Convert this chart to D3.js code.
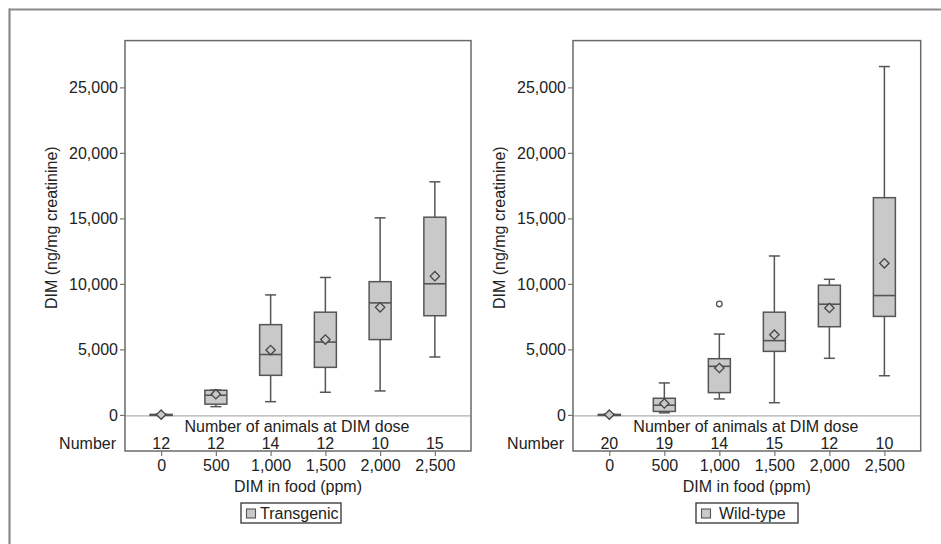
<!DOCTYPE html>
<html>
<head>
<meta charset="utf-8">
<style>
  body { margin: 0; background: #fff; }
  svg text { font-family: "Liberation Sans", Arial, Helvetica, sans-serif; fill: #222; }
</style>
<script src="https://d3js.org/d3.v7.min.js"></script>
</head>
<body>
<div id="chart"></div>
<script>
// dose groups (ppm of DIM in food)
var doses = ["0", "500", "1,000", "1,500", "2,000", "2,500"];
var yTicks = [0, 5000, 10000, 15000, 20000, 25000];

// Transgenic
var tgMin    = [0,    630,  1010, 1730, 1830, 4420];
var tgQ1     = [0,    820,  3020, 3630, 5750, 7570];
var tgMedian = [10,   1500, 4610, 5560, 8550, 10010];
var tgQ3     = [40,   1880, 6890, 7840, 10170, 15090];
var tgMax    = [60,   1900, 9160, 10490, 15040, 17790];
var tgMean   = [20,   1580, 4950, 5750, 8210, 10590];
var tgN      = [12, 12, 14, 12, 10, 15];

// Wild-type
var wtMin    = [0,    160,  1220, 930,  4320, 2990];
var wtQ1     = [0,    265,  1700, 4850, 6730, 7520];
var wtMedian = [10,   740,  3710, 5670, 8450, 9110];
var wtQ3     = [40,   1270, 4290, 7840, 9900, 16580];
var wtMax    = [60,   2440, 6170, 12130, 10350, 26590];
var wtMean   = [20,   870,  3580, 6120, 8160, 11570];
var wtN      = [20, 19, 14, 15, 12, 10];
var wtOutliers = [{dose: "1,000", value: 8470}];

var W = 941, H = 544;
var plotTop = 40.6, plotBottom = 451;

var svg = d3.select("#chart").append("svg")
    .attr("width", W)
    .attr("height", H);

// outer figure frame (top and left edges only are in view)
svg.append("line")
    .attr("x1", 9).attr("x2", W).attr("y1", 9.5).attr("y2", 9.5)
    .attr("stroke", "#8a8a8a").attr("stroke-width", 2.2);
svg.append("line")
    .attr("x1", 9.5).attr("x2", 9.5).attr("y1", 8.5).attr("y2", H)
    .attr("stroke", "#8a8a8a").attr("stroke-width", 2.2);

var y = d3.scaleLinear()
    .domain([-2755, 28570])
    .range([plotBottom, plotTop]);

function buildRows(mn, q1, med, q3, mx, mean) {
    return doses.map(function(d, i) {
        return {dose: d, min: mn[i], q1: q1[i], med: med[i], q3: q3[i], max: mx[i], mean: mean[i]};
    });
}

var panels = [
    {left: 125, right: 471, rows: buildRows(tgMin, tgQ1, tgMedian, tgQ3, tgMax, tgMean),
     counts: tgN, outliers: [], legend: "Transgenic", legendX: 241, legendW: 100, textX: 19},
    {left: 573, right: 920.7, rows: buildRows(wtMin, wtQ1, wtMedian, wtQ3, wtMax, wtMean),
     counts: wtN, outliers: wtOutliers, legend: "Wild-type", legendX: 696, legendW: 102, textX: 23}
];

var boxFill = "#c9c9c9",
    ink = "#555",
    boxW = 22,
    capW = 11;

panels.forEach(function(p) {

    var x = d3.scalePoint()
        .domain(doses)
        .range([p.left, p.right])
        .padding(0.66);

    var g = svg.append("g");
    var mid = (p.left + p.right) / 2;

    // zero reference line
    g.append("line")
        .attr("x1", p.left).attr("x2", p.right)
        .attr("y1", y(0) + 1).attr("y2", y(0) + 1)
        .attr("stroke", "#b0b0b0").attr("stroke-width", 1.2);

    // y axis
    var yx = g.append("g")
        .attr("transform", "translate(" + p.left + ",0)")
        .call(d3.axisLeft(y).tickValues(yTicks).tickSize(5).tickPadding(2).tickFormat(d3.format(",")));
    yx.select(".domain").remove();
    yx.selectAll("line").attr("stroke", "#777").attr("stroke-width", 1.2);
    yx.selectAll("text").style("font-size", "16px").attr("fill", "#222");

    // x axis (ticks below the frame)
    var xx = g.append("g")
        .attr("transform", "translate(0," + plotBottom + ")")
        .call(d3.axisBottom(x).tickSize(5).tickPadding(3.3));
    xx.select(".domain").remove();
    xx.selectAll("line").attr("stroke", "#777").attr("stroke-width", 1.2);
    xx.selectAll("text").style("font-size", "16px").attr("fill", "#222");

    var bx = g.selectAll(".bx").data(p.rows).enter().append("g").attr("class", "bx");

    // whiskers
    bx.append("line")
        .attr("x1", d => x(d.dose)).attr("x2", d => x(d.dose))
        .attr("y1", d => y(d.min)).attr("y2", d => y(d.max))
        .attr("stroke", ink).attr("stroke-width", 1.5);

    bx.append("line")
        .attr("x1", d => x(d.dose) - capW / 2).attr("x2", d => x(d.dose) + capW / 2)
        .attr("y1", d => y(d.max)).attr("y2", d => y(d.max))
        .attr("stroke", ink).attr("stroke-width", 1.5);

    bx.append("line")
        .attr("x1", d => x(d.dose) - capW / 2).attr("x2", d => x(d.dose) + capW / 2)
        .attr("y1", d => y(d.min)).attr("y2", d => y(d.min))
        .attr("stroke", ink).attr("stroke-width", 1.5);

    // boxes
    bx.append("rect")
        .attr("x", d => x(d.dose) - boxW / 2)
        .attr("width", boxW)
        .attr("y", d => y(d.q3))
        .attr("height", d => Math.max(1, y(d.q1) - y(d.q3)))
        .attr("fill", boxFill)
        .attr("stroke", ink).attr("stroke-width", 1.5);

    // medians
    bx.append("line")
        .attr("x1", d => x(d.dose) - boxW / 2).attr("x2", d => x(d.dose) + boxW / 2)
        .attr("y1", d => y(d.med)).attr("y2", d => y(d.med))
        .attr("stroke", ink).attr("stroke-width", 1.6);

    // means as diamonds
    bx.append("path")
        .attr("d", d3.symbol().type(d3.symbolDiamond2).size(56))
        .attr("transform", d => "translate(" + x(d.dose) + "," + y(d.mean) + ")")
        .attr("fill", boxFill)
        .attr("stroke", "#444").attr("stroke-width", 1.3);

    // outliers
    g.selectAll(".out").data(p.outliers).enter().append("circle")
        .attr("class", "out")
        .attr("cx", d => x(d.dose))
        .attr("cy", d => y(d.value))
        .attr("r", 2.8)
        .attr("fill", "none")
        .attr("stroke", ink).attr("stroke-width", 1.3);

    // plot frame
    g.append("rect")
        .attr("x", p.left).attr("y", plotTop)
        .attr("width", p.right - p.left).attr("height", plotBottom - plotTop)
        .attr("fill", "none")
        .attr("stroke", "#6a6a6a").attr("stroke-width", 1.5);

    // animal counts
    g.append("text")
        .attr("x", mid - 1).attr("y", 426.8)
        .attr("text-anchor", "middle").attr("dominant-baseline", "central")
        .style("font-size", "16px")
        .text("Number of animals at DIM dose");

    g.append("text")
        .attr("x", p.left - 9).attr("y", 443)
        .attr("text-anchor", "end").attr("dominant-baseline", "central")
        .style("font-size", "16px")
        .text("Number");

    g.selectAll(".cnt").data(p.counts).enter().append("text")
        .attr("class", "cnt")
        .attr("x", (d, i) => x(doses[i]))
        .attr("y", 443)
        .attr("text-anchor", "middle").attr("dominant-baseline", "central")
        .style("font-size", "16px")
        .text(d => d);

    // axis titles
    g.append("text")
        .attr("x", mid).attr("y", 486.5)
        .attr("text-anchor", "middle").attr("dominant-baseline", "central")
        .style("font-size", "16px")
        .text("DIM in food (ppm)");

    g.append("text")
        .attr("transform", "translate(" + (p.left - 74) + "," + ((plotTop + y(0)) / 2) + ") rotate(-90)")
        .attr("text-anchor", "middle").attr("dominant-baseline", "central")
        .style("font-size", "16px")
        .text("DIM (ng/mg creatinine)");

    // legend
    var lg = g.append("g").attr("transform", "translate(" + p.legendX + ",503)");
    lg.append("rect")
        .attr("width", p.legendW).attr("height", 20)
        .attr("fill", "#fff").attr("stroke", "#333").attr("stroke-width", 1.3);
    lg.append("rect")
        .attr("x", 5.5).attr("y", 6).attr("width", 9).attr("height", 9)
        .attr("fill", boxFill).attr("stroke", ink).attr("stroke-width", 1.1);
    lg.append("text")
        .attr("x", p.textX).attr("y", 10.5)
        .attr("dominant-baseline", "central")
        .style("font-size", "16px")
        .text(p.legend);
});
</script>
</body>
</html>
